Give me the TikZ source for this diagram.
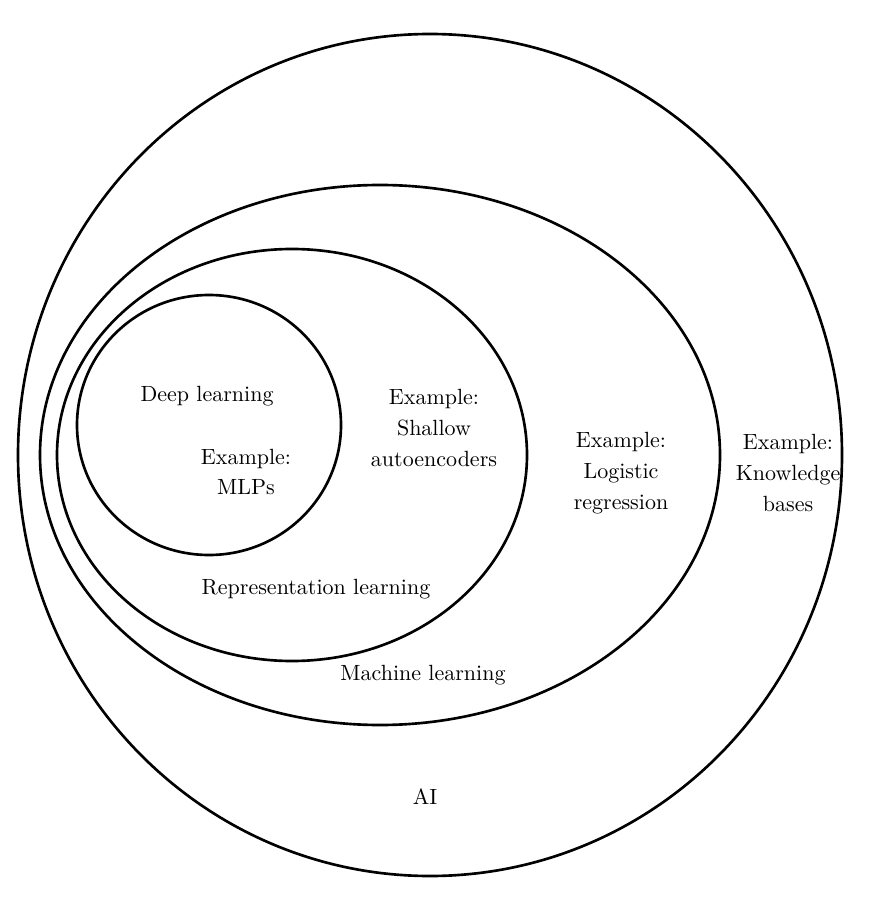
\documentclass[tikz,border=0pt]{standalone}
\usepackage{amsmath,amssymb}
\usepackage{tikz}
\usetikzlibrary{positioning}

\begin{document}
\begin{tikzpicture}[x=0.4545pt, y=-0.4545pt,
    setline/.style={draw, line width=1.2pt},
    lbl/.style={font={\fontsize{10}{14}\selectfont}, align=center, inner sep=1pt}
]
\useasboundingbox (0,0) rectangle (883,905);
% nested sets
\draw[setline] (430,455) ellipse [x radius=412, y radius=421];
\draw[setline] (380,455) ellipse [x radius=340, y radius=270];
\draw[setline] (292,455) ellipse [x radius=235, y radius=206];
\draw[setline] (209,425) ellipse [x radius=132, y radius=130];

\node[lbl] (dl) at (207,396) {Deep learning};
\node[lbl] (mlp) at (246,472) {Example:\\MLPs};
\node[lbl] (sae) at (434,428) {Example:\\Shallow\\autoencoders};
\node[lbl] (rl) at (316,589) {Representation learning};
\node[lbl] (lr) at (621,473) {Example:\\Logistic\\regression};
\node[lbl] (ml) at (423,675) {Machine learning};
\node[lbl] (kb) at (788,473) {Example:\\Knowledge\\bases};
\node[lbl] (ai) at (425,797) {AI};
\end{tikzpicture}
\end{document}
